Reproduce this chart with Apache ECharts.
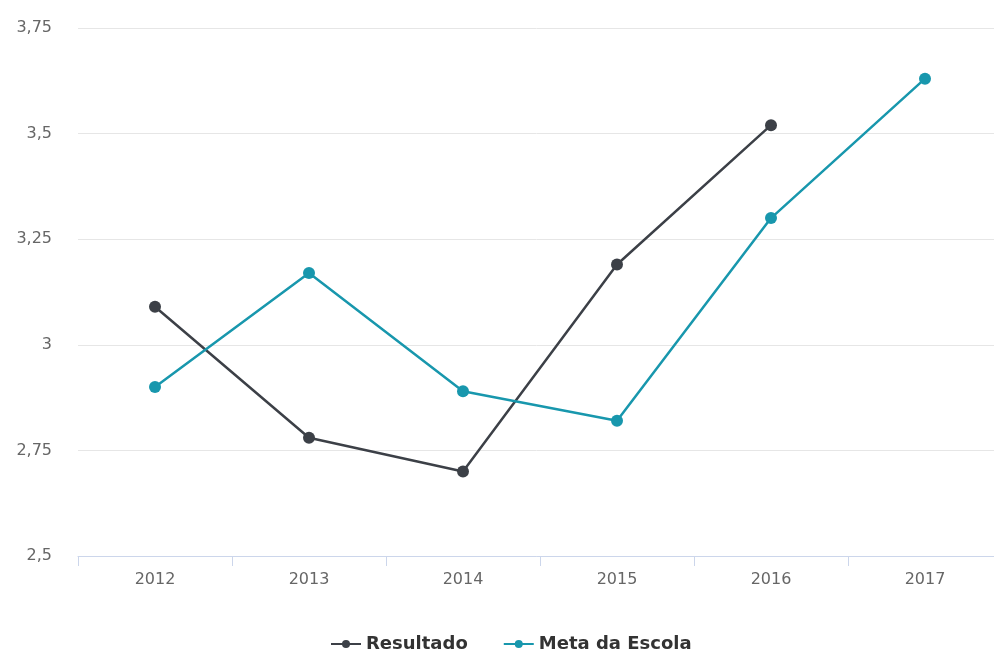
<!DOCTYPE html>
<html>
<head>
<meta charset="utf-8">
<script src="https://cdn.jsdelivr.net/npm/echarts@6/dist/echarts.min.js"></script>
<style>
  html, body { margin: 0; padding: 0; background: #fff; }
  #chart { width: 994px; height: 652px; }
</style>
</head>
<body>
<div id="chart"></div>
<script>
// Anos avaliados
const anos = ['2012', '2013', '2014', '2015', '2016', '2017'];
// Resultado obtido pela escola (sem valor em 2017)
const resultado = [3.09, 2.78, 2.70, 3.19, 3.52, null];
// Meta projetada para a escola
const metaEscola = [2.90, 3.17, 2.89, 2.82, 3.30, 3.63];

const chart = echarts.init(document.getElementById('chart'));
const font = '"DejaVu Sans", "Open Sans", sans-serif';

chart.setOption({
  animation: false,
  backgroundColor: '#ffffff',
  // a área do gráfico continua um pouco além da borda direita
  grid: {
    left: 78, top: 28, width: 924, height: 528,
    containLabel: false, outerBoundsMode: 'none'
  },
  legend: {
    top: 630,
    left: 325,
    itemWidth: 30,
    itemHeight: 10,
    itemGap: 35,
    textStyle: {
      fontFamily: font, fontSize: 18, fontWeight: 'bold', color: '#333'
    },
    data: ['Resultado', 'Meta da Escola']
  },
  xAxis: {
    type: 'category',
    data: anos,
    boundaryGap: true,
    axisLine: { lineStyle: { color: '#ccd6eb', width: 1 } },
    axisTick: { show: true, length: 10, lineStyle: { color: '#ccd6eb' } },
    axisLabel: { color: '#666', fontFamily: font, fontSize: 16, margin: 16 },
    splitLine: { show: false }
  },
  yAxis: {
    type: 'value',
    min: 2.5,
    max: 3.75,
    interval: 0.25,
    axisLine: { show: false },
    axisTick: { show: false },
    axisLabel: {
      color: '#666', fontFamily: font, fontSize: 16, margin: 26,
      formatter: v => String(Math.round(v * 100) / 100).replace('.', ',')
    },
    splitLine: { lineStyle: { color: '#e6e6e6', width: 1 } }
  },
  series: [
    {
      name: 'Resultado',
      type: 'line',
      data: resultado,
      color: '#3c4047',
      symbol: 'circle',
      symbolSize: 12,
      lineStyle: { width: 2.5, color: '#3c4047' },
      itemStyle: { color: '#3c4047' }
    },
    {
      name: 'Meta da Escola',
      type: 'line',
      data: metaEscola,
      color: '#1897ad',
      symbol: 'circle',
      symbolSize: 12,
      lineStyle: { width: 2.5, color: '#1897ad' },
      itemStyle: { color: '#1897ad' }
    }
  ]
});
</script>
</body>
</html>
